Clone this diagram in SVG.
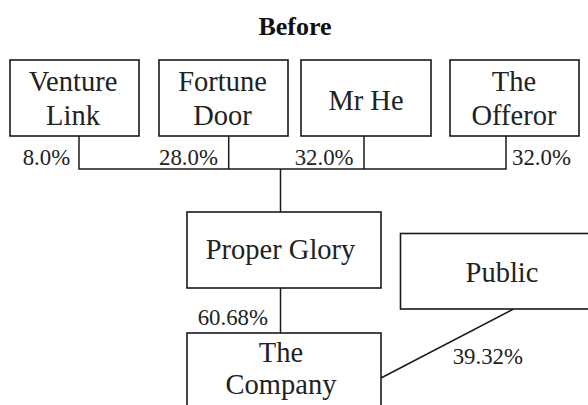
<svg xmlns="http://www.w3.org/2000/svg" width="588" height="405" viewBox="0 0 588 405">
<style>
.box{fill:#fff;stroke:#1a1a1a;stroke-width:1.6}
.ln{fill:none;stroke:#1a1a1a;stroke-width:1.5}
</style>
<rect width="588" height="405" fill="#fff"/>
<text x="295" y="35" font-family="Liberation Serif, Times New Roman, serif" font-size="26" font-weight="bold" fill="#111" text-anchor="middle">Before</text>
<g id="connectors">
<path class="ln" d="M79,136V169H506V136M228.7,136V169M364,136V169M280.5,169V212"/>
<path class="ln" d="M280.5,288V333"/>
<path class="ln" d="M381,378L513.5,309"/>
</g>
<g font-family="Liberation Serif, Times New Roman, serif" fill="#222">
<g id="venture-link">
<rect class="box" x="10" y="60" width="129" height="76"/>
<text x="73" y="90.7" font-size="28.5" text-anchor="middle">Venture</text>
<text x="73" y="125" font-size="28.5" text-anchor="middle">Link</text>
<text x="22.7" y="165" font-size="22.8">8.0%</text>
</g>
<g id="fortune-door">
<rect class="box" x="159" y="60" width="129" height="76"/>
<text x="222.5" y="90.7" font-size="28.5" text-anchor="middle">Fortune</text>
<text x="222.5" y="125" font-size="28.5" text-anchor="middle">Door</text>
<text x="159" y="165" font-size="22.8">28.0%</text>
</g>
<g id="mr-he">
<rect class="box" x="301" y="60" width="130" height="76"/>
<text x="366" y="110" font-size="28.5" text-anchor="middle">Mr He</text>
<text x="294.7" y="165" font-size="22.8">32.0%</text>
</g>
<g id="the-offeror">
<rect class="box" x="450" y="60" width="129" height="76"/>
<text x="514" y="90.7" font-size="28.5" text-anchor="middle">The</text>
<text x="514" y="125" font-size="28.5" text-anchor="middle">Offeror</text>
<text x="512" y="165" font-size="22.8">32.0%</text>
</g>
<g id="proper-glory">
<rect class="box" x="187" y="212" width="194" height="76"/>
<text x="280.5" y="259.3" font-size="28.5" text-anchor="middle">Proper Glory</text>
<text x="197.7" y="325" font-size="22.8">60.68%</text>
</g>
<g id="public">
<rect class="box" x="400.5" y="233.5" width="192" height="75.5"/>
<text x="502" y="281.7" font-size="28.5" text-anchor="middle">Public</text>
<text x="452.7" y="364" font-size="22.8">39.32%</text>
</g>
<g id="the-company">
<rect class="box" x="187" y="333" width="194" height="80"/>
<text x="281" y="361.7" font-size="28.5" text-anchor="middle">The</text>
<text x="281" y="394" font-size="28.5" text-anchor="middle">Company</text>
</g>
</g>
</svg>
